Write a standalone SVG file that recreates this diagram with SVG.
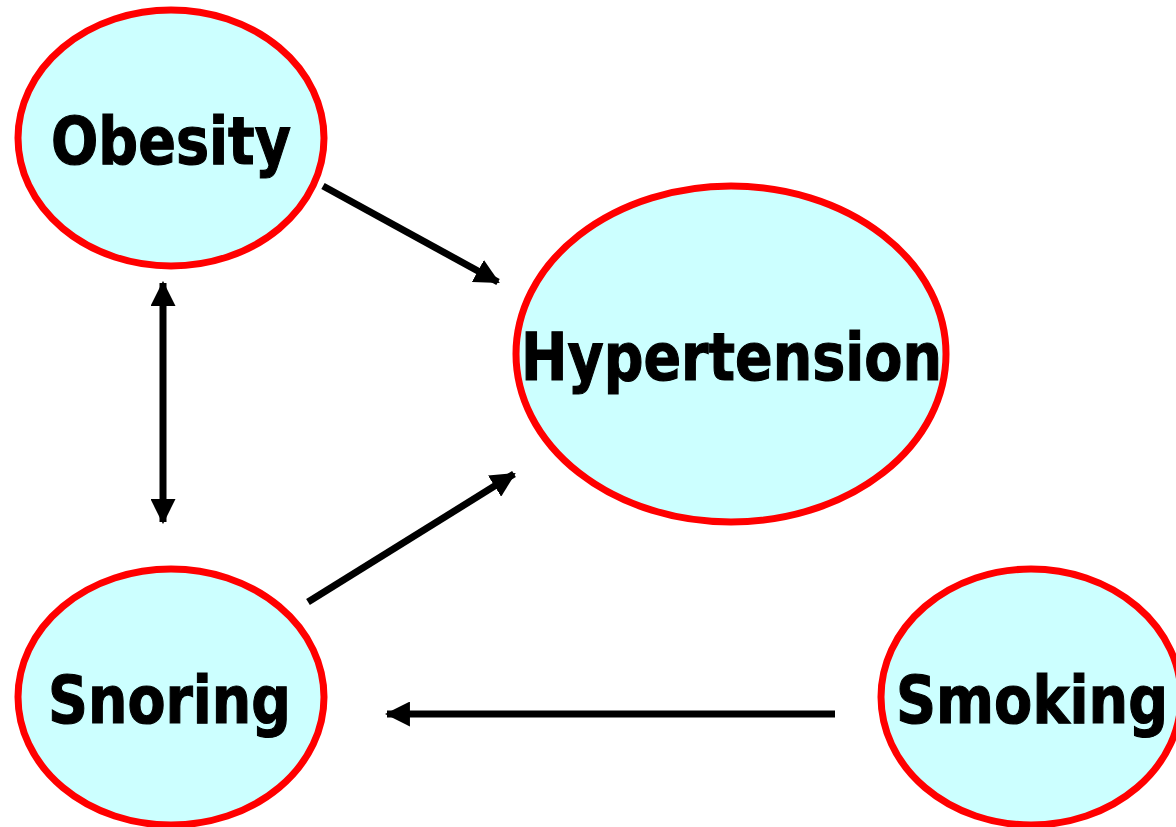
<svg xmlns="http://www.w3.org/2000/svg" width="1176" height="827" viewBox="0 0 1176 827">
<style>
.node ellipse{fill:#CCFFFF;stroke:#FF0000;stroke-width:7}
.node text{font-family:"DejaVu Sans","Liberation Sans",sans-serif;font-weight:bold;font-size:65px;fill:#000;stroke:#000;stroke-width:1.2;text-anchor:middle}
.conn line{stroke:#000;stroke-width:7}
</style>
<defs>
<marker id="ah" markerUnits="userSpaceOnUse" viewBox="0 0 24 24" refX="22" refY="12" markerWidth="25" markerHeight="25" orient="auto-start-reverse">
<path d="M0,0 L24,12 L0,24 Z" fill="#000"/>
</marker>
</defs>
<rect width="1176" height="827" fill="#fff"/>
<g id="obesity" class="node">
<ellipse cx="171" cy="138" rx="153" ry="128"/>
<text x="171" y="164" textLength="240" lengthAdjust="spacingAndGlyphs">Obesity</text>
</g>
<g id="hypertension" class="node">
<ellipse cx="731" cy="354" rx="215" ry="168"/>
<text x="731.5" y="380" textLength="421" lengthAdjust="spacingAndGlyphs">Hypertension</text>
</g>
<g id="snoring" class="node">
<ellipse cx="171" cy="697" rx="153" ry="128"/>
<text x="169.5" y="723" textLength="243" lengthAdjust="spacingAndGlyphs">Snoring</text>
</g>
<g id="smoking" class="node">
<ellipse cx="1031" cy="697" rx="150" ry="128"/>
<text x="1032" y="723" textLength="272" lengthAdjust="spacingAndGlyphs">Smoking</text>
</g>
<g id="connectors" class="conn">
<line x1="323" y1="186" x2="498" y2="282" marker-end="url(#ah)"/>
<line x1="163" y1="283" x2="163" y2="522" marker-start="url(#ah)" marker-end="url(#ah)"/>
<line x1="308" y1="602" x2="514" y2="474" marker-end="url(#ah)"/>
<line x1="835" y1="714" x2="387" y2="714" marker-end="url(#ah)"/>
</g>
</svg>
